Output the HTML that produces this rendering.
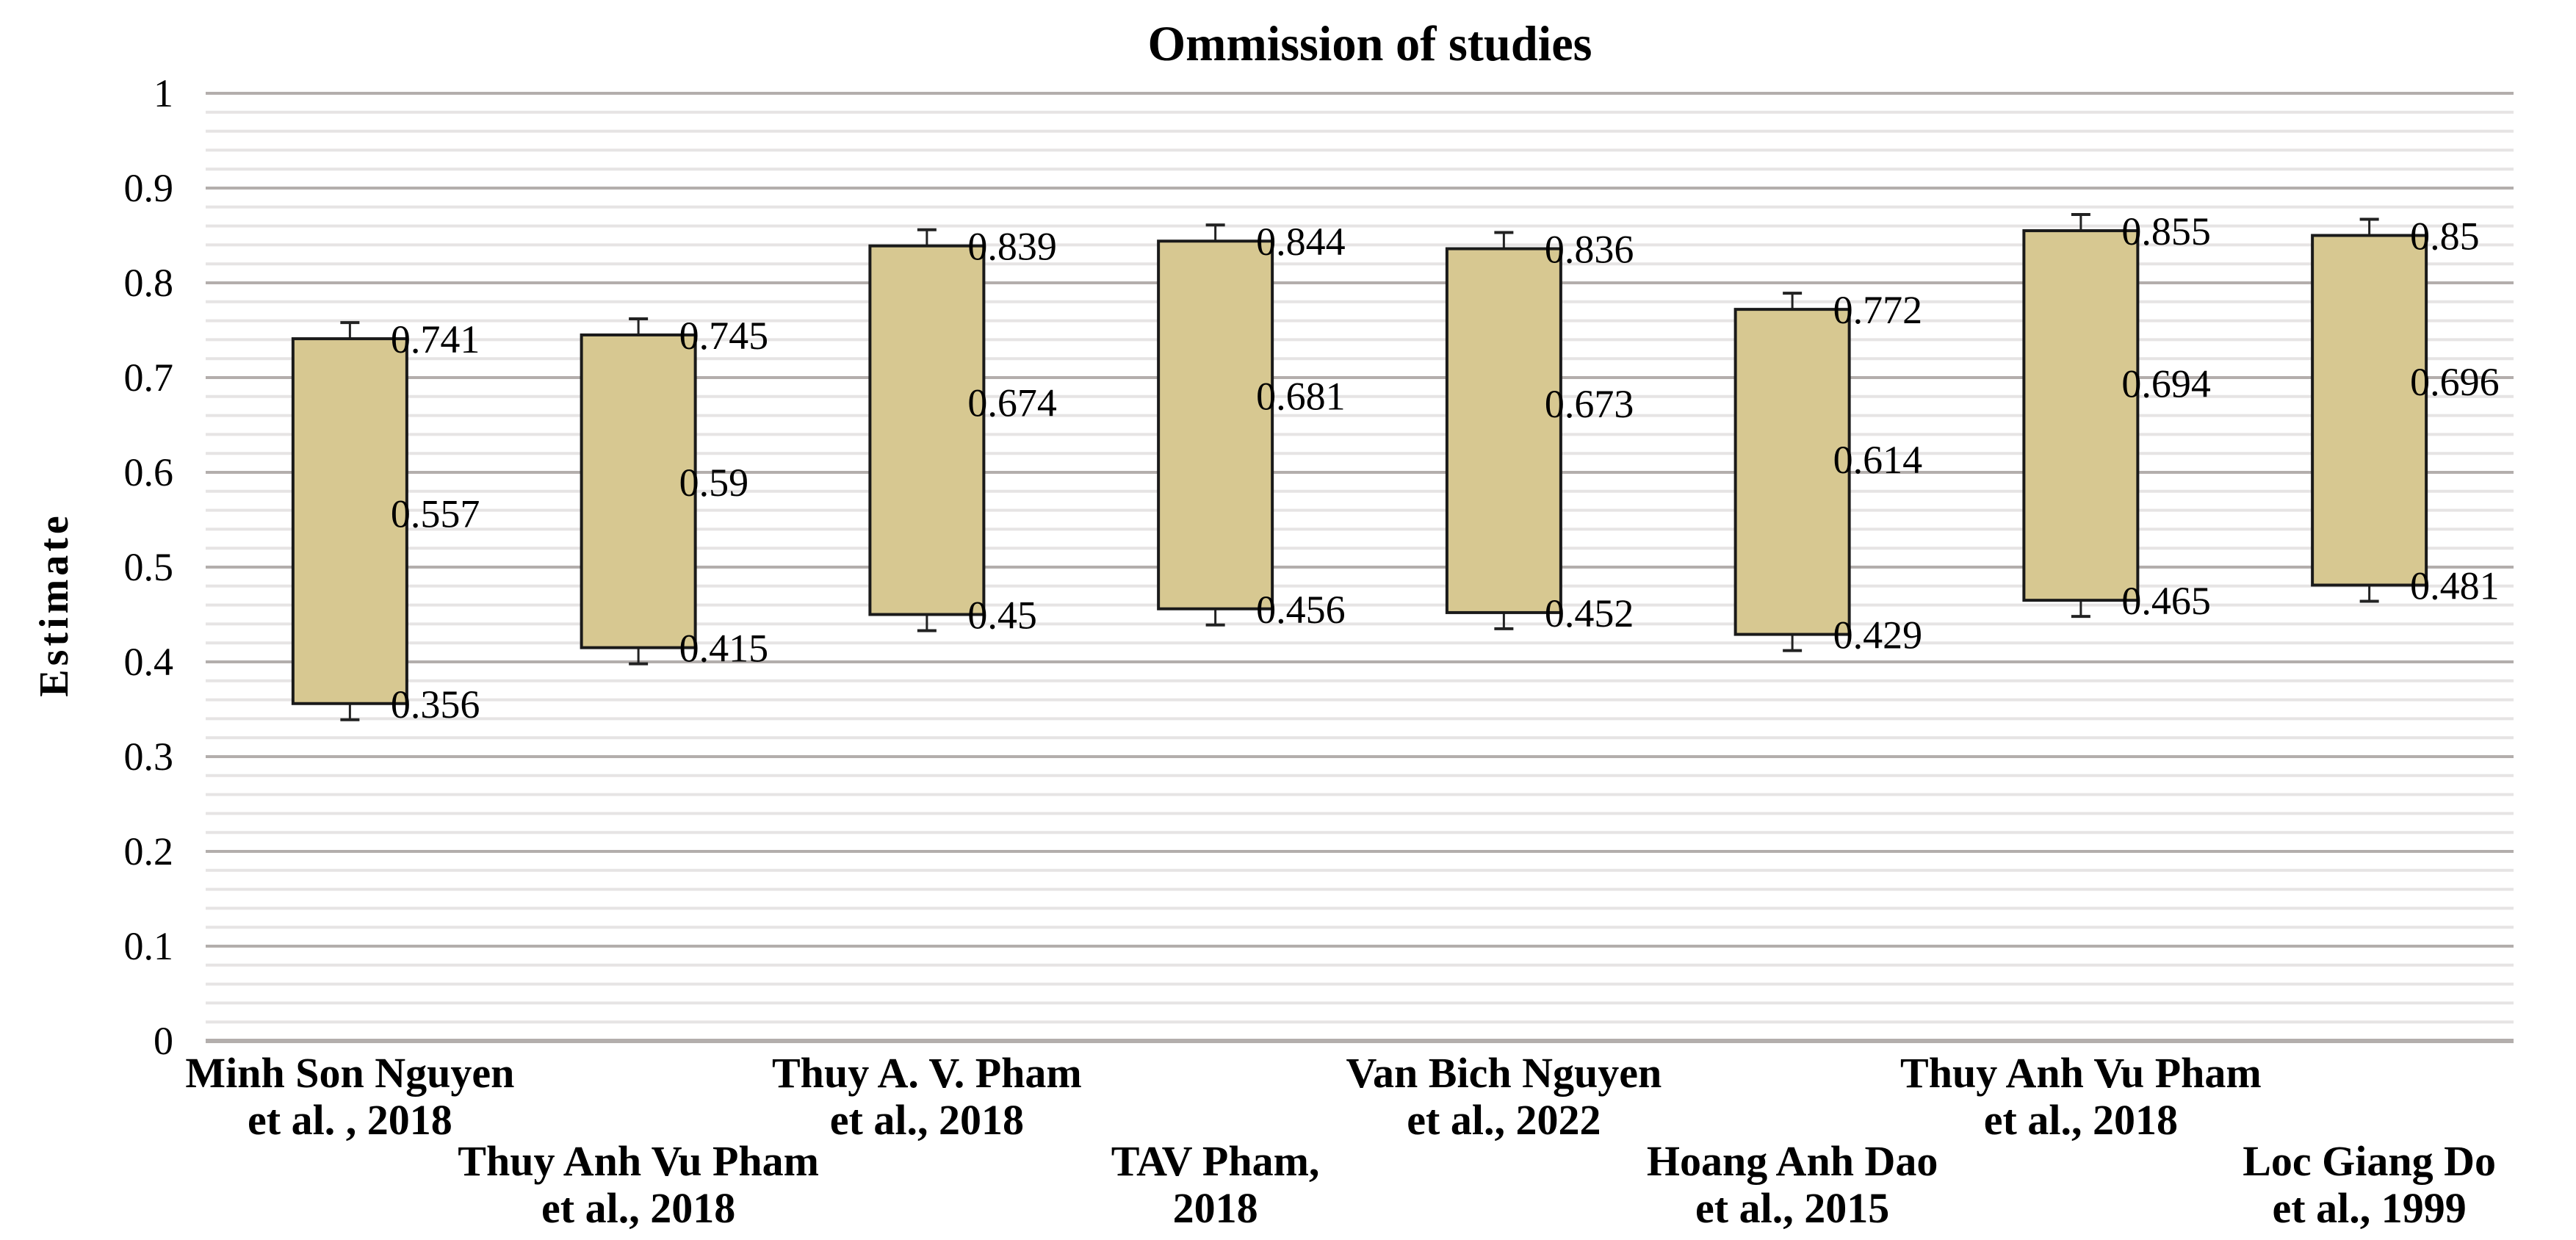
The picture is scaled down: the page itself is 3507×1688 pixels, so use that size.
<!DOCTYPE html>
<html><head><meta charset="utf-8"><style>
html,body{margin:0;padding:0;background:#fff;}
svg{display:block;font-family:"Liberation Serif",serif;}
</style></head><body>
<svg id="s" width="3507" height="1688" viewBox="0 0 3507 1688" xmlns="http://www.w3.org/2000/svg">
<rect width="3507" height="1688" fill="#fff"/>
<g id="grid"></g>
<g id="bars"></g>
<text x="1865" y="82" text-anchor="middle" font-weight="bold" font-size="68" textLength="605" lengthAdjust="spacingAndGlyphs">Ommission of studies</text>
<text transform="translate(92,823) rotate(-90)" text-anchor="middle" font-weight="bold" font-size="56" letter-spacing="5">Estimate</text>
<g id="ticks" font-size="54" text-anchor="end"></g>
<g id="xl" font-size="58" font-weight="bold" text-anchor="middle"></g>
</svg>
<script>
var NS="http://www.w3.org/2000/svg";
function el(p,t,a,txt){var e=document.createElementNS(NS,t);for(var k in a)e.setAttribute(k,a[k]);if(txt!==undefined)e.textContent=txt;document.getElementById(p).appendChild(e);return e;}
var L=280,R=3422,Y0=1417,Y1=127;
function Y(v){return Y0-(Y0-Y1)*v;}
for(var i=0;i<=50;i++){var v=i/50,y=Y(v);var maj=(i%5==0);
el("grid","line",{x1:L,x2:R,y1:y,y2:y,stroke:maj?"#b3aeac":"#e6e4e4","stroke-width":maj?(i==0?6:4):4});}
for(var i=0;i<=10;i++){var y=Y(i/10);el("ticks","text",{x:236,y:y+18},i==0?"0":i==10?"1":(i/10).toFixed(1));}
var d=[[0.356,0.557,0.741,"0.356","0.557","0.741"],[0.415,0.59,0.745,"0.415","0.59","0.745"],[0.45,0.674,0.839,"0.45","0.674","0.839"],[0.456,0.681,0.844,"0.456","0.681","0.844"],[0.452,0.673,0.836,"0.452","0.673","0.836"],[0.429,0.614,0.772,"0.429","0.614","0.772"],[0.465,0.694,0.855,"0.465","0.694","0.855"],[0.481,0.696,0.85,"0.481","0.696","0.85"]];
var names=[["Minh Son Nguyen","et al. , 2018"],["Thuy Anh Vu Pham","et al., 2018"],["Thuy A. V. Pham","et al., 2018"],["TAV Pham,","2018"],["Van Bich Nguyen","et al., 2022"],["Hoang Anh Dao","et al., 2015"],["Thuy Anh Vu Pham","et al., 2018"],["Loc Giang Do","et al., 1999"]];
var cw=(R-L)/8,bw=155;
d.forEach(function(r,i){var c=L+cw*(i+.5),x0=c-bw/2,x1=c+bw/2;
var yt=Y(r[2]),yb=Y(r[0]);
el("bars","line",{x1:c,x2:c,y1:yt,y2:yt-22,stroke:"#222","stroke-width":3});
el("bars","line",{x1:c-13,x2:c+13,y1:yt-22,y2:yt-22,stroke:"#222","stroke-width":4});
el("bars","line",{x1:c,x2:c,y1:yb,y2:yb+22,stroke:"#222","stroke-width":3});
el("bars","line",{x1:c-13,x2:c+13,y1:yb+22,y2:yb+22,stroke:"#222","stroke-width":4});
el("bars","rect",{x:x0,y:yt,width:bw,height:yb-yt,fill:"#d7c891",stroke:"#1a1a1a","stroke-width":4});
[[r[2],r[5]],[r[1],r[4]],[r[0],r[3]]].forEach(function(p){el("bars","text",{x:x1-22,y:Y(p[0])+19,"font-size":54},p[1]);});
var lv=(i%2==0)?0:120;
el("xl","text",{x:c,y:1480+lv},names[i][0]);
el("xl","text",{x:c,y:1544+lv},names[i][1]);
});
</script>
</body></html>
